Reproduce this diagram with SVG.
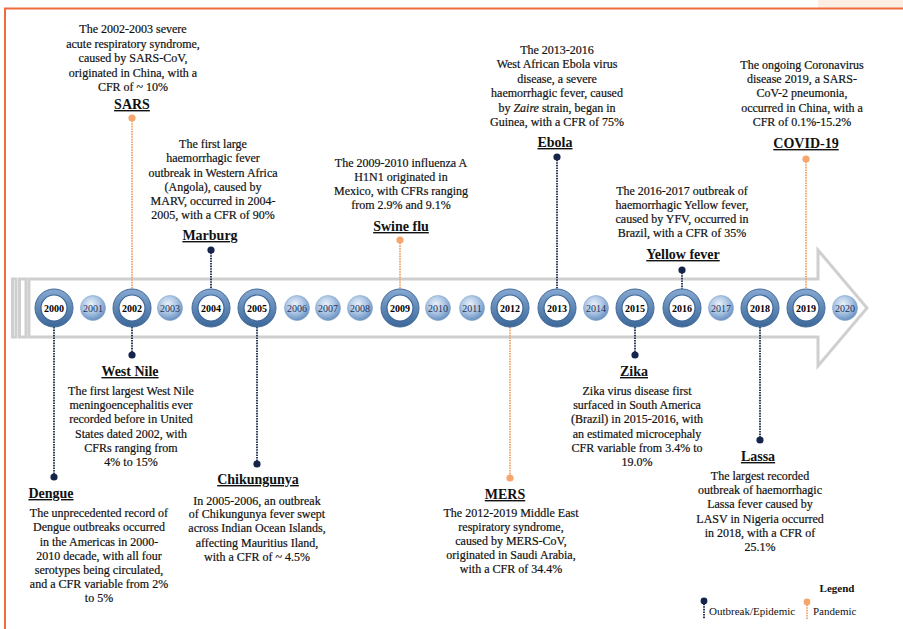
<svg xmlns="http://www.w3.org/2000/svg" width="903" height="629" viewBox="0 0 903 629">
<defs>
<linearGradient id="ring" x1="0" y1="0" x2="0" y2="1">
<stop offset="0" stop-color="#86a9d2"/>
<stop offset="1" stop-color="#3b6798"/>
</linearGradient>
<radialGradient id="ball" cx="0.42" cy="0.35" r="0.65">
<stop offset="0" stop-color="#eaf1fa"/>
<stop offset="0.55" stop-color="#aac4e3"/>
<stop offset="1" stop-color="#6a91c1"/>
</radialGradient>
<style>
.band{fill:#fff;stroke:#cfcfcf;stroke-width:3}
.ln{stroke-width:1.8;stroke-dasharray:1.6 1;fill:none}
.nv{stroke:#1b2b4c}
.og{stroke:#f3a56c}
.dn{fill:#14244a}
.do{fill:#f4a66d}
.t{font-family:"Liberation Serif","Times New Roman",serif;font-size:12px;fill:#111;stroke:#111;stroke-width:0.2;text-anchor:middle}
.h{font-family:"Liberation Serif","Times New Roman",serif;font-size:14px;font-weight:bold;fill:#111;text-anchor:middle;text-decoration:underline}
.yb{font-family:"Liberation Serif","Times New Roman",serif;font-size:10px;font-weight:bold;fill:#000;text-anchor:middle}
.ys{font-family:"Liberation Serif","Times New Roman",serif;font-size:10px;fill:#1f3357;text-anchor:middle}
.big{fill:url(#ring);stroke:#41699a;stroke-width:1}
.inn{fill:#fff;stroke:#3d6798;stroke-width:1.2}
.sm{fill:url(#ball);stroke:#7d9fc9;stroke-width:0.6}
.lg{font-family:"Liberation Serif","Times New Roman",serif;font-size:11px;fill:#111}
</style>
</defs>
<rect width="903" height="629" fill="#fff"/>
<rect x="818" y="0" width="85" height="8" fill="#fdeee4"/>
<path d="M5,629 V8.5 H903" fill="none" stroke="#f06a3c" stroke-width="2"/>

<g id="timeline">
<rect class="band" x="12.5" y="279" width="3.5" height="58"/>
<rect class="band" x="19.5" y="279" width="6.5" height="58"/>
<path class="band" d="M29,279 H818 V250 L867,308 L818,366 V337 H29 Z"/>
</g>

<g id="connectors">
<line class="ln og" x1="132" y1="118" x2="132" y2="289"/>
<line class="ln nv" x1="211" y1="250" x2="211" y2="289"/>
<line class="ln og" x1="400" y1="240" x2="400" y2="289"/>
<line class="ln nv" x1="557" y1="157" x2="557" y2="289"/>
<line class="ln nv" x1="682" y1="270" x2="682" y2="289"/>
<line class="ln og" x1="806" y1="159" x2="806" y2="289"/>
<line class="ln nv" x1="54" y1="327" x2="54" y2="477"/>
<line class="ln nv" x1="132" y1="327" x2="132" y2="355"/>
<line class="ln nv" x1="257" y1="327" x2="257" y2="464"/>
<line class="ln og" x1="510" y1="327" x2="510" y2="478"/>
<line class="ln nv" x1="635" y1="327" x2="635" y2="355"/>
<line class="ln nv" x1="760" y1="327" x2="760" y2="440"/>
<circle class="do" cx="132" cy="118" r="3.6"/>
<circle class="dn" cx="211" cy="250" r="3.6"/>
<circle class="do" cx="400" cy="240" r="3.6"/>
<circle class="dn" cx="557" cy="157" r="3.6"/>
<circle class="dn" cx="682" cy="270" r="3.6"/>
<circle class="do" cx="806" cy="159" r="3.6"/>
<circle class="dn" cx="54" cy="477" r="3.6"/>
<circle class="dn" cx="132" cy="355" r="3.6"/>
<circle class="dn" cx="257" cy="464" r="3.6"/>
<circle class="do" cx="510" cy="478" r="3.6"/>
<circle class="dn" cx="635" cy="355" r="3.6"/>
<circle class="dn" cx="760" cy="440" r="3.6"/>
</g>

<g id="years">
<g id="y2000"><circle class="big" cx="54" cy="308" r="19"/><circle class="inn" cx="54" cy="308" r="13"/><text class="yb" x="54" y="311.5">2000</text></g>
<g id="y2001"><circle class="sm" cx="93" cy="308" r="12.5"/><text class="ys" x="93" y="311.5">2001</text></g>
<g id="y2002"><circle class="big" cx="132" cy="308" r="19"/><circle class="inn" cx="132" cy="308" r="13"/><text class="yb" x="132" y="311.5">2002</text></g>
<g id="y2003"><circle class="sm" cx="170" cy="308" r="12.5"/><text class="ys" x="170" y="311.5">2003</text></g>
<g id="y2004"><circle class="big" cx="211" cy="308" r="19"/><circle class="inn" cx="211" cy="308" r="13"/><text class="yb" x="211" y="311.5">2004</text></g>
<g id="y2005"><circle class="big" cx="257" cy="308" r="19"/><circle class="inn" cx="257" cy="308" r="13"/><text class="yb" x="257" y="311.5">2005</text></g>
<g id="y2006"><circle class="sm" cx="297" cy="308" r="12.5"/><text class="ys" x="297" y="311.5">2006</text></g>
<g id="y2007"><circle class="sm" cx="328" cy="308" r="12.5"/><text class="ys" x="328" y="311.5">2007</text></g>
<g id="y2008"><circle class="sm" cx="360" cy="308" r="12.5"/><text class="ys" x="360" y="311.5">2008</text></g>
<g id="y2009"><circle class="big" cx="400" cy="308" r="19"/><circle class="inn" cx="400" cy="308" r="13"/><text class="yb" x="400" y="311.5">2009</text></g>
<g id="y2010"><circle class="sm" cx="438" cy="308" r="12.5"/><text class="ys" x="438" y="311.5">2010</text></g>
<g id="y2011"><circle class="sm" cx="472" cy="308" r="12.5"/><text class="ys" x="472" y="311.5">2011</text></g>
<g id="y2012"><circle class="big" cx="510" cy="308" r="19"/><circle class="inn" cx="510" cy="308" r="13"/><text class="yb" x="510" y="311.5">2012</text></g>
<g id="y2013"><circle class="big" cx="557" cy="308" r="19"/><circle class="inn" cx="557" cy="308" r="13"/><text class="yb" x="557" y="311.5">2013</text></g>
<g id="y2014"><circle class="sm" cx="596" cy="308" r="12.5"/><text class="ys" x="596" y="311.5">2014</text></g>
<g id="y2015"><circle class="big" cx="635" cy="308" r="19"/><circle class="inn" cx="635" cy="308" r="13"/><text class="yb" x="635" y="311.5">2015</text></g>
<g id="y2016"><circle class="big" cx="682" cy="308" r="19"/><circle class="inn" cx="682" cy="308" r="13"/><text class="yb" x="682" y="311.5">2016</text></g>
<g id="y2017"><circle class="sm" cx="721" cy="308" r="12.5"/><text class="ys" x="721" y="311.5">2017</text></g>
<g id="y2018"><circle class="big" cx="760" cy="308" r="19"/><circle class="inn" cx="760" cy="308" r="13"/><text class="yb" x="760" y="311.5">2018</text></g>
<g id="y2019"><circle class="big" cx="806" cy="308" r="19"/><circle class="inn" cx="806" cy="308" r="13"/><text class="yb" x="806" y="311.5">2019</text></g>
<g id="y2020"><circle class="sm" cx="845" cy="308" r="12.5"/><text class="ys" x="845" y="311.5">2020</text></g>
</g>

<g id="sars">
<text class="t" x="133" y="33">The 2002-2003 severe</text>
<text class="t" x="133" y="47.5">acute respiratory syndrome,</text>
<text class="t" x="133" y="62">caused by SARS-CoV,</text>
<text class="t" x="133" y="76.5">originated in China, with a</text>
<text class="t" x="133" y="91">CFR of ~ 10%</text>
<text class="h" x="132" y="109">SARS</text>
</g>

<g id="marburg">
<text class="t" x="213" y="148">The first large</text>
<text class="t" x="213" y="162">haemorrhagic fever</text>
<text class="t" x="213" y="177">outbreak in Western Africa</text>
<text class="t" x="213" y="191">(Angola), caused by</text>
<text class="t" x="213" y="205">MARV, occurred in 2004-</text>
<text class="t" x="213" y="219">2005, with a CFR of 90%</text>
<text class="h" x="210" y="240">Marburg</text>
</g>

<g id="swineflu">
<text class="t" x="401" y="167">The 2009-2010 influenza A</text>
<text class="t" x="401" y="181">H1N1 originated in</text>
<text class="t" x="401" y="195">Mexico, with CFRs ranging</text>
<text class="t" x="401" y="209">from 2.9% and 9.1%</text>
<text class="h" x="401" y="231">Swine flu</text>
</g>

<g id="ebola">
<text class="t" x="557" y="54">The 2013-2016</text>
<text class="t" x="557" y="68">West African Ebola virus</text>
<text class="t" x="557" y="83">disease, a severe</text>
<text class="t" x="557" y="97">haemorrhagic fever, caused</text>
<text class="t" x="557" y="112">by <tspan font-style="italic">Zaire</tspan> strain, began in</text>
<text class="t" x="557" y="126">Guinea, with a CFR of 75%</text>
<text class="h" x="555" y="147">Ebola</text>
</g>

<g id="yellowfever">
<text class="t" x="682" y="195">The 2016-2017 outbreak of</text>
<text class="t" x="682" y="209">haemorrhagic Yellow fever,</text>
<text class="t" x="682" y="223">caused by YFV, occurred in</text>
<text class="t" x="682" y="237">Brazil, with a CFR of 35%</text>
<text class="h" x="683" y="259">Yellow fever</text>
</g>

<g id="covid19">
<text class="t" x="802" y="69">The ongoing Coronavirus</text>
<text class="t" x="802" y="83">disease 2019, a SARS-</text>
<text class="t" x="802" y="97">CoV-2 pneumonia,</text>
<text class="t" x="802" y="112">occurred in China, with a</text>
<text class="t" x="802" y="126">CFR of 0.1%-15.2%</text>
<text class="h" x="806" y="148">COVID-19</text>
</g>

<g id="westnile">
<text class="h" x="130" y="376">West Nile</text>
<text class="t" x="131" y="395">The first largest West Nile</text>
<text class="t" x="131" y="409">meningoencephalitis ever</text>
<text class="t" x="131" y="423">recorded before in United</text>
<text class="t" x="131" y="438">States dated 2002, with</text>
<text class="t" x="131" y="452">CFRs ranging from</text>
<text class="t" x="131" y="466">4% to 15%</text>
</g>

<g id="dengue">
<text class="h" x="51" y="498">Dengue</text>
<text class="t" x="99" y="517">The unprecedented record of</text>
<text class="t" x="99" y="531">Dengue outbreaks occurred</text>
<text class="t" x="99" y="546">in the Americas in 2000-</text>
<text class="t" x="99" y="560">2010 decade, with all four</text>
<text class="t" x="99" y="574">serotypes being circulated,</text>
<text class="t" x="99" y="588">and a CFR variable from 2%</text>
<text class="t" x="99" y="602">to 5%</text>
</g>

<g id="chikungunya">
<text class="h" x="258" y="484">Chikungunya</text>
<text class="t" x="257" y="505">In 2005-2006, an outbreak</text>
<text class="t" x="257" y="518">of Chikungunya fever swept</text>
<text class="t" x="257" y="532">across Indian Ocean Islands,</text>
<text class="t" x="257" y="547">affecting Mauritius Iland,</text>
<text class="t" x="257" y="561">with a CFR of ~ 4.5%</text>
</g>

<g id="mers">
<text class="h" x="505" y="499">MERS</text>
<text class="t" x="511" y="517">The 2012-2019 Middle East</text>
<text class="t" x="511" y="531">respiratory syndrome,</text>
<text class="t" x="511" y="545">caused by MERS-CoV,</text>
<text class="t" x="511" y="559">originated in Saudi Arabia,</text>
<text class="t" x="511" y="573">with a CFR of 34.4%</text>
</g>

<g id="zika">
<text class="h" x="634" y="376">Zika</text>
<text class="t" x="637" y="395">Zika virus disease first</text>
<text class="t" x="637" y="409">surfaced in South America</text>
<text class="t" x="637" y="423">(Brazil) in 2015-2016, with</text>
<text class="t" x="637" y="438">an estimated microcephaly</text>
<text class="t" x="637" y="452">CFR variable from 3.4% to</text>
<text class="t" x="637" y="466">19.0%</text>
</g>

<g id="lassa">
<text class="h" x="758" y="461">Lassa</text>
<text class="t" x="760" y="480">The largest recorded</text>
<text class="t" x="760" y="494">outbreak of haemorrhagic</text>
<text class="t" x="760" y="508">Lassa fever caused by</text>
<text class="t" x="760" y="523">LASV in Nigeria occurred</text>
<text class="t" x="760" y="537">in 2018, with a CFR of</text>
<text class="t" x="760" y="551">25.1%</text>
</g>

<g id="legend">
<text class="lg" x="837" y="592" font-weight="bold" text-anchor="middle">Legend</text>
<line class="ln nv" x1="704" y1="601" x2="704" y2="619"/>
<circle class="dn" cx="704" cy="601" r="3.4"/>
<text class="lg" x="709" y="615">Outbreak/Epidemic</text>
<line class="ln og" x1="807" y1="602" x2="807" y2="619"/>
<circle class="do" cx="807" cy="602" r="3.4"/>
<text class="lg" x="813" y="615">Pandemic</text>
</g>
</svg>
